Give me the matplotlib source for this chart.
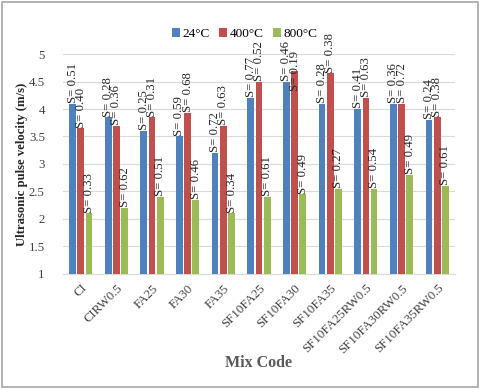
import matplotlib.pyplot as plt
import numpy as np
from matplotlib.patches import Rectangle

plt.rcParams['font.family'] = ['Liberation Serif', 'DejaVu Serif']

mixes = ['CI', 'CIRW0.5', 'FA25', 'FA30', 'FA35', 'SF10FA25', 'SF10FA30',
         'SF10FA35', 'SF10FA25RW0.5', 'SF10FA30RW0.5', 'SF10FA35RW0.5']
series = ['24°C', '400°C', '800°C']
v24 = [4.1, 3.85, 3.6, 3.5, 3.2, 4.2, 4.5, 4.1, 4.0, 4.1, 3.8]
v400 = [3.65, 3.7, 3.85, 3.93, 3.7, 4.5, 4.7, 4.65, 4.2, 4.1, 3.85]
v800 = [2.1, 2.2, 2.4, 2.35, 2.1, 2.4, 2.45, 2.55, 2.55, 2.8, 2.6]
s24 = ['0.51', '0.28', '0.25', '0.59', '0.72', '0.77', '0.46', '0.28', '0.41', '0.36', '0.24']
s400 = ['0.40', '0.36', '0.31', '0.68', '0.63', '0.52', '0.19', '0.38', '0.63', '0.72', '0.38']
s800 = ['0.33', '0.62', '0.51', '0.46', '0.34', '0.61', '0.49', '0.27', '0.54', '0.49', '0.61']

colors = ['#4F81BD', '#C0504D', '#9BBB59']

fig = plt.figure(figsize=(4.8, 3.89), dpi=100)
ax = fig.add_axes([0.131, 0.296, 0.817, 0.565])

x = np.arange(len(mixes))
w = 0.19
step = 0.23
for i, (vals, sds) in enumerate(zip([v24, v400, v800], [s24, s400, s800])):
    xs = x + (i - 1) * step
    ax.bar(xs, vals, width=w, color=colors[i], label=series[i], zorder=3)
    for j, (xx, v, s) in enumerate(zip(xs, vals, sds)):
        # one label pushed down onto the bar (kept inside the plot area)
        if i == 1 and j == 6:
            ax.text(xx, v, 'S= ' + s, rotation=90, ha='center', va='center',
                    fontsize=9.2, color='#262626', clip_on=False, zorder=4)
        else:
            ax.text(xx, v + 0.01, 'S= ' + s, rotation=90, ha='center', va='bottom',
                    fontsize=9.2, color='#262626', clip_on=False, zorder=4)

ax.set_xlim(-0.5, len(mixes) - 0.5)
ax.set_ylim(1, 5)
ax.set_yticks(np.arange(1, 5.01, 0.5))
ax.set_yticklabels(['1', '1.5', '2', '2.5', '3', '3.5', '4', '4.5', '5'])
ax.set_xticks(x)
ax.set_xticklabels(mixes, rotation=45, ha='right', rotation_mode='anchor')
ax.tick_params(axis='y', length=0, labelsize=9.2, colors='#404040', pad=13)
ax.tick_params(axis='x', length=0, labelsize=9.3, colors='#404040', pad=6)
ax.grid(axis='y', color='#D9D9D9', linewidth=0.8, zorder=0)
for sp in ['top', 'right', 'left']:
    ax.spines[sp].set_visible(False)
ax.spines['bottom'].set_color('#D9D9D9')

ax.set_ylabel('Ultrasonic pulse velocity (m/s)', fontsize=9.2, fontweight='bold',
              color='#262626')
ax.yaxis.set_label_coords(-0.088, 0.5)
ax.set_xlabel('Mix Code', fontsize=11.5, fontweight='bold', color='#595959')
ax.xaxis.set_label_coords(0.5, -0.37)

fig.legend(loc='center', bbox_to_anchor=(0.51, 0.912), ncol=3, frameon=False,
           fontsize=9.5, handlelength=0.6, handleheight=0.6, columnspacing=0.7,
           handletextpad=0.2)

fig.patches.append(Rectangle((0.004, 0.005), 0.992, 0.99, transform=fig.transFigure,
                             fill=False, edgecolor='#A6A6A6', linewidth=1.2))

fig.savefig('out.png', dpi=100)
